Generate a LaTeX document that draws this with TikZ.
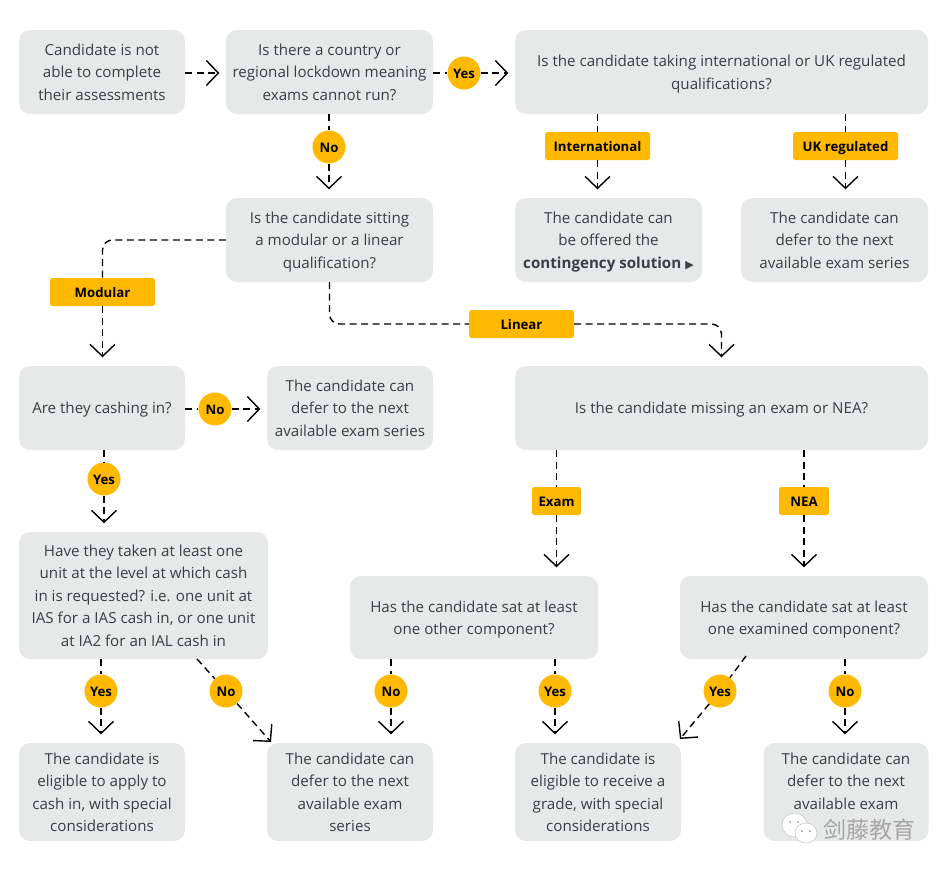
\documentclass[tikz,border=0pt]{standalone}
\usepackage{fontspec}
\setmainfont{Open Sans}
\newfontfamily\symfont{DejaVu Sans}
\newfontfamily\cjkwm{Noto Sans CJK SC}
\usetikzlibrary{arrows.meta,calc}
\definecolor{boxgrey}{HTML}{E7E8E8}
\definecolor{tagyellow}{HTML}{FFB900}
\definecolor{bodyink}{HTML}{3A3E45}
\newcommand{\topfix}{\rule{0pt}{15.6pt}}
\tikzset{
  box/.style={rectangle,rounded corners=11pt,fill=boxgrey,text=bodyink,inner sep=0pt,align=center,
    font=\fontsize{15.15}{22.5}\selectfont,execute at end node=\rule[-4pt]{0pt}{4pt}},
  oneline/.style={execute at begin node=\rule{0pt}{14pt}},
  tagcirc/.style={circle,fill=tagyellow,inner sep=0pt,minimum size=33pt,text=black,text height=10pt,text depth=0pt,font=\fontsize{13.2}{16}\selectfont\bfseries},
  tagrect/.style={rectangle,rounded corners=2.5pt,fill=tagyellow,inner sep=0pt,minimum height=28pt,text=black,text height=10pt,text depth=0pt,font=\fontsize{13.2}{16}\selectfont\bfseries},
  link/.style={draw=black,line width=1.4pt,dash pattern=on 7pt off 4.5pt},
  arrowlink/.style={link,-{Straight Barb[length=12pt,width=25pt,line width=1.4pt]}},
  toright/.style={arrowlink,shorten >=6.5pt},
  todown/.style={arrowlink,shorten >=8.5pt},
  bubble/.style={fill=white,draw=gray!55,line width=.4pt},
  eye/.style={fill=gray!70},
}
\begin{document}
\begin{tikzpicture}[x=1pt,y=-1pt]
\useasboundingbox (0,0) rectangle (946,871);
% boxes
\node[box,minimum width=166pt,minimum height=84pt] (a) at (102,72) {\topfix Candidate is not\\able to complete\\their assessments};
\node[box,minimum width=207pt,minimum height=84pt] (b) at (329.5,72) {\topfix Is there a country or\\regional lockdown meaning\\exams cannot run?};
\node[box,minimum width=413pt,minimum height=84pt] (c) at (721.5,72) {\topfix Is the candidate taking international or UK regulated\\qualifications?};
\node[box,minimum width=207pt,minimum height=84pt] (d) at (329.5,240) {\topfix Is the candidate sitting\\a modular or a linear\\qualification?};
\node[box,minimum width=187pt,minimum height=84pt] (e) at (608.5,240) {\topfix The candidate can\\be offered the\\\textbf{contingency solution} {\symfont\fontsize{11}{10}\selectfont ▶}};
\node[box,minimum width=187pt,minimum height=84pt] (f) at (834.5,240) {\topfix The candidate can\\defer to the next\\available exam series};
\node[box,oneline,minimum width=166pt,minimum height=84pt] (g) at (102,408) {Are they cashing in?};
\node[box,minimum width=166pt,minimum height=84pt] (h) at (350,408) {\topfix The candidate can\\defer to the next\\available exam series};
\node[box,oneline,minimum width=413pt,minimum height=84pt] (i) at (721.5,408) {Is the candidate missing an exam or NEA?};
\node[box,minimum width=249pt,minimum height=127pt] (j) at (143.5,595.5) {\topfix Have they taken at least one\\unit at the level at which cash\\in is requested? i.e. one unit at\\IAS for a IAS cash in, or one unit\\at IA2 for an IAL cash in};
\node[box,minimum width=248pt,minimum height=83pt] (k) at (474,617.5) {\topfix Has the candidate sat at least\\one other component?};
\node[box,minimum width=248pt,minimum height=83pt] (l) at (804,617.5) {\topfix Has the candidate sat at least\\one examined component?};
\node[box,minimum width=166pt,minimum height=98pt] (m) at (102,792) {\topfix The candidate is\\eligible to apply to\\cash in, with special\\considerations};
\node[box,minimum width=166pt,minimum height=98pt] (n) at (350,792) {\topfix The candidate can\\defer to the next\\available exam\\series};
\node[box,minimum width=166pt,minimum height=98pt] (o) at (598,792) {\topfix The candidate is\\eligible to receive a\\grade, with special\\considerations};
\node[box,minimum width=165pt,minimum height=98pt] (p) at (846,792) {\topfix The candidate can\\defer to the next\\available exam\\\phantom{series}};
% tags
\node[tagcirc] (t1) at (464,73) {Yes};
\node[tagcirc] (t2) at (329,147) {No};
\node[tagcirc] (t3) at (215,409) {No};
\node[tagcirc] (t4) at (104,479) {Yes};
\node[tagcirc] (t5) at (101,691) {Yes};
\node[tagcirc] (t6) at (226,691) {No};
\node[tagcirc] (t7) at (391,691) {No};
\node[tagcirc] (t8) at (555,691) {Yes};
\node[tagcirc] (t9) at (720,691) {Yes};
\node[tagcirc] (t10) at (845,691) {No};
\node[tagrect,minimum width=105pt] (r1) at (597.5,146) {International};
\node[tagrect,minimum width=105pt] (r2) at (845.5,146) {UK regulated};
\node[tagrect,minimum width=105pt] (r3) at (102.5,292) {Modular};
\node[tagrect,minimum width=105pt] (r4) at (521.5,324) {Linear};
\node[tagrect,minimum width=49pt] (r5) at (556.5,501) {Exam};
\node[tagrect,minimum width=50pt] (r6) at (804,501) {NEA};
% free ends of the slanted connectors
\coordinate (j1) at (197,659);
\coordinate (n1) at (271,742);
\coordinate (l1) at (746,656);
\coordinate (o1) at (680,739);
% connectors
\draw[toright] (a.east |- t1) -- (b.west |- t1);
\draw[link] (b.east |- t1) -- (t1);
\draw[toright] (t1) -- (c.west |- t1);
\draw[link] (b.south -| t2) -- (t2);
\draw[todown] (t2) -- (d.north -| t2);
\draw[link] (c.south -| r1) -- (r1);
\draw[todown] (r1) -- (e.north -| r1);
\draw[link] (c.south -| r2) -- (r2);
\draw[todown] (r2) -- (f.north -| r2);
\draw[link,rounded corners=10pt] (d.west) -- (r3.north |- d.west) -- (r3.north);
\draw[todown] (r3) -- (g.north -| r3);
\draw[link,rounded corners=10pt] (d.south) -- (d.south |- r4) -- (r4.west);
\draw[arrowlink,rounded corners=10pt,shorten >=8.5pt] (r4.east) -- (i.north |- r4) -- (i.north);
\draw[link] (g.east |- t3) -- (t3);
\draw[toright] (t3) -- (h.west |- t3);
\draw[link] (g.south -| t4) -- (t4);
\draw[todown] (t4) -- (j.north -| t4);
\draw[link] (j.south -| t5) -- (t5);
\draw[todown] (t5) -- (m.north -| t5);
\draw[link] (j1) -- (t6);
\draw[arrowlink] (t6) -- (n1);
\draw[link] (k.south -| t7) -- (t7);
\draw[todown] (t7) -- (n.north -| t7);
\draw[link] (k.south -| t8) -- (t8);
\draw[todown] (t8) -- (o.north -| t8);
\draw[link] (l1) -- (t9);
\draw[arrowlink] (t9) -- (o1);
\draw[link] (l.south -| t10) -- (t10);
\draw[todown] (t10) -- (p.north -| t10);
\draw[link] (i.south -| r5) -- (r5);
\draw[todown] (r5) -- (k.north -| r5);
\draw[link] (i.south -| r6) -- (r6);
\draw[todown] (r6) -- (l.north -| r6);
% watermark
\path[bubble] (794.5,825) ellipse (12.5pt and 12pt);
\fill[eye] (790,822) circle (1.1pt) (798,822) circle (1.1pt);
\path[bubble] (806,833) ellipse (11pt and 10pt);
\fill[eye] (802,831) circle (1.1pt) (810,831) circle (1.1pt);
\node[text=gray!70,font=\cjkwm\fontsize{23}{23}\selectfont,inner sep=0pt] (wm) at (869,830) {剑藤教育};
\end{tikzpicture}
\end{document}
